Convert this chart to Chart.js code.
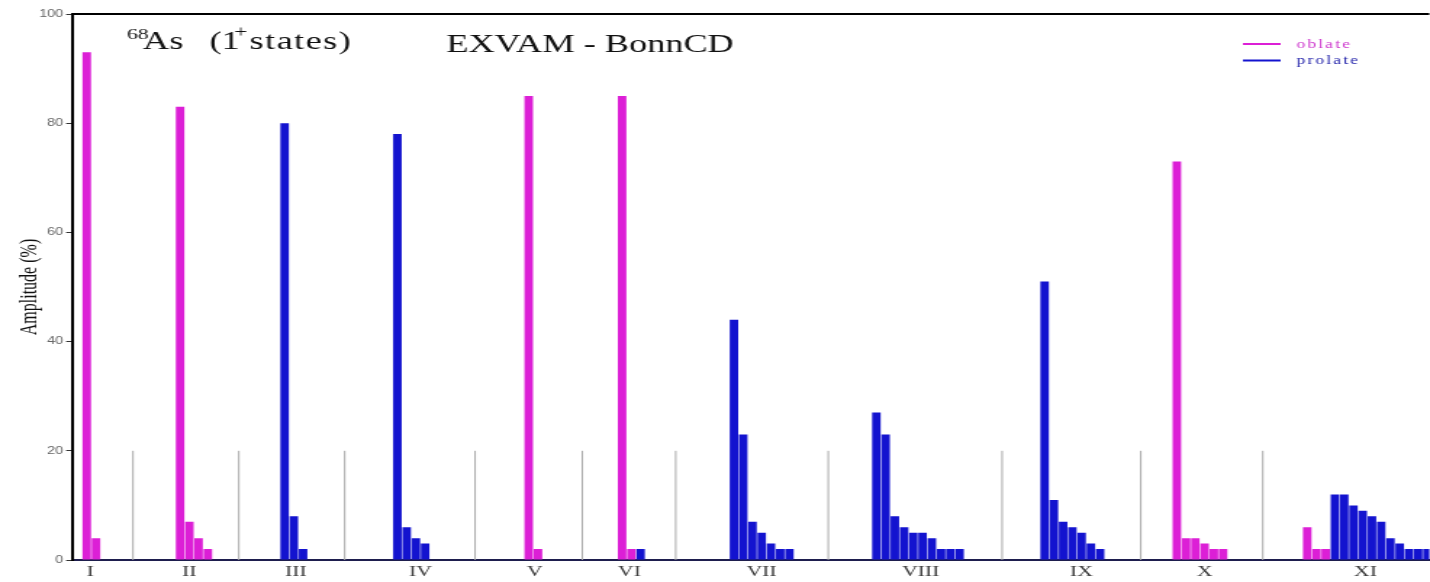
<!DOCTYPE html>
<html>
<head>
<meta charset="utf-8">
<script src="https://cdn.jsdelivr.net/npm/chart.js@4"></script>
<style>
  html, body { margin: 0; padding: 0; background: #fff; overflow: hidden; }
  /* plot is laid out narrow and then widened sideways, like the printed figure */
  #wrap { width: 986px; height: 582px; transform: scaleX(1.4503); transform-origin: 0 0; }
</style>
</head>
<body>
<div id="wrap"><canvas id="amp"></canvas></div>
<script>
// state groups and where their labels sit on the x axis (x in bar slots)
const groupLabels = ['I', 'II', 'III', 'IV', 'V', 'VI', 'VII', 'VIII', 'IX', 'X', 'XI'];
const labelPos = [2.0, 12.7, 24.2, 37.7, 50.05, 60.3, 74.6, 91.8, 109.2, 122.5, 139.9];
// x of the first bar in each group
const groupStart = [1.6, 11.7, 23.0, 35.2, 49.4, 59.5, 71.6, 87.0, 105.2, 119.5, 133.6];

// amplitudes (%) per group, oblate bars come first, prolate follow
const oblate = [[93, 4], [83, 7, 4, 2], [], [], [85, 2], [85, 2], [], [], [], [73, 4, 4, 3, 2, 2], [6, 2, 2]];
const prolate = [[], [], [80, 8, 2], [78, 6, 4, 3], [], [2], [44, 23, 7, 5, 3, 2, 2],
  [27, 23, 8, 6, 5, 5, 4, 2, 2, 2], [51, 11, 7, 6, 5, 3, 2], [], [12, 12, 10, 9, 8, 7, 4, 3, 2, 2, 2]];

// thin separators between groups
const dividers = [6.6, 18.05, 29.5, 43.6, 55.2, 65.3, 81.8, 100.6, 115.6, 128.8];
const dividerTop = 20;
const xMax = 146.8;

const MAGENTA = '#dc1fd6';
const BLUE = '#1313cf';

const oblatePts = [];
const prolatePts = [];
groupStart.forEach((s, g) => {
  oblate[g].forEach((v, i) => oblatePts.push({ x: s + i, y: v }));
  prolate[g].forEach((v, i) => prolatePts.push({ x: s + oblate[g].length + i, y: v }));
});
const dividerPts = [];
dividers.forEach(x => dividerPts.push({ x: x, y: 0 }, { x: x, y: dividerTop }, { x: x, y: null }));

// top frame line, heading texts and the small key
const notes = {
  id: 'notes',
  afterDraw(chart) {
    const { ctx, chartArea } = chart;
    ctx.save();
    ctx.strokeStyle = '#000';
    ctx.lineWidth = 2;
    ctx.beginPath();
    ctx.moveTo(chartArea.left, chartArea.top);
    ctx.lineTo(chartArea.right, chartArea.top);
    ctx.stroke();

    ctx.fillStyle = '#111';
    ctx.textBaseline = 'alphabetic';
    ctx.textAlign = 'left';
    const big = '25px "Liberation Serif"';
    const small = '15px "Liberation Serif"';
    ctx.font = small; ctx.fillText('68', 87.5, 39);
    ctx.font = big; ctx.fillText('As', 98.6, 49);
    ctx.fillText('(1', 144.5, 49);
    ctx.font = '16px "Liberation Serif"'; ctx.fillText('+', 161.5, 37);
    ctx.font = big;
    ctx.letterSpacing = '1px';
    ctx.fillText('states)', 172, 49);
    ctx.letterSpacing = '0px';

    ctx.textAlign = 'center';
    ctx.fillText('EXVAM - BonnCD', 406.8, 52);

    // key
    const keys = [['oblate', MAGENTA, '#cc33cc', 44], ['prolate', BLUE, '#2222aa', 60.5]];
    ctx.textAlign = 'left';
    ctx.font = '12px "Liberation Serif"';
    ctx.letterSpacing = '1.5px';
    keys.forEach(([name, line, text, y]) => {
      ctx.strokeStyle = line;
      ctx.lineWidth = 2;
      ctx.beginPath();
      ctx.moveTo(857, y);
      ctx.lineTo(883, y);
      ctx.stroke();
      ctx.fillStyle = text;
      ctx.fillText(name, 894, y + 3.5);
    });
    ctx.restore();
  }
};

new Chart(document.getElementById('amp'), {
  type: 'bar',
  data: {
    datasets: [
      { label: 'oblate', data: oblatePts, backgroundColor: MAGENTA, grouped: false, barPercentage: 0.92, categoryPercentage: 1 },
      { label: 'prolate', data: prolatePts, backgroundColor: BLUE, grouped: false, barPercentage: 0.92, categoryPercentage: 1 },
      { type: 'line', label: 'dividers', data: dividerPts, borderColor: '#a9a9a9', borderWidth: 1, pointRadius: 0, spanGaps: false }
    ]
  },
  options: {
    responsive: true,
    maintainAspectRatio: false,
    animation: false,
    devicePixelRatio: 1,
    layout: { padding: { top: 14, right: 0, bottom: 0, left: 0 } },
    plugins: { legend: { display: false }, tooltip: { enabled: false } },
    scales: {
      x: {
        type: 'linear',
        offset: false,
        min: 0,
        max: xMax,
        afterBuildTicks: scale => { scale.ticks = labelPos.map(v => ({ value: v })); },
        afterFit: scale => { scale.height = 22; },
        ticks: {
          autoSkip: false,
          maxRotation: 0,
          padding: 3,
          color: '#3a3a3a',
          font: { family: 'Liberation Serif', size: 15 },
          callback: (v, i) => groupLabels[i]
        },
        grid: { display: false, drawTicks: false },
        border: { color: '#1e1e4e', width: 2 }
      },
      y: {
        min: 0,
        max: 100,
        afterFit: scale => { scale.width = 49.6; },
        ticks: { stepSize: 20, padding: 2, color: '#666', font: { family: 'Liberation Sans', size: 10 } },
        grid: { drawOnChartArea: false, tickLength: 4, tickColor: '#333' },
        border: { color: '#000', width: 2 },
        title: {
          display: true,
          text: 'Amplitude (%)',
          color: '#111',
          font: { family: 'Liberation Serif', size: 16 },
          padding: { top: 11, bottom: 0 }
        }
      }
    }
  },
  plugins: [notes]
});
</script>
</body>
</html>
